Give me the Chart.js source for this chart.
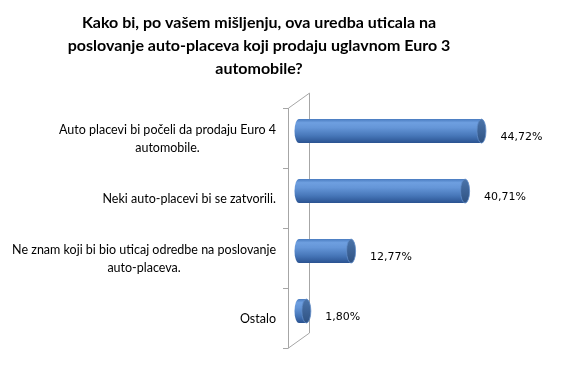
<!DOCTYPE html>
<html>
<head>
<meta charset="utf-8">
<script src="https://cdn.jsdelivr.net/npm/chart.js@4"></script>
<style>
  html, body { margin: 0; padding: 0; background: #fff; }
</style>
</head>
<body>
<canvas id="myChart" width="573" height="367"></canvas>
<script>
var titleLines = [
	"Kako bi, po vašem mišljenju, ova uredba uticala na",
	"poslovanje auto-placeva koji prodaju uglavnom Euro 3",
	"automobile?"
];
var categories = [
	["Auto placevi bi počeli da prodaju Euro 4", "automobile."],
	["Neki auto-placevi bi se zatvorili."],
	["Ne znam koji bi bio uticaj odredbe na poslovanje", "auto-placeva."],
	["Ostalo"]
];
var percents = [44.72, 40.71, 12.77, 1.80];
var valueLabels = ["44,72%", "40,71%", "12,77%", "1,80%"];

var depthX = 10, depthY = 7;   // half of the 3d wall offset

function barGradient(ctx, top, bottom) {
	var g = ctx.createLinearGradient(0, top, 0, bottom);
	g.addColorStop(0, "#4a7cc0");
	g.addColorStop(0.15, "#6e9fe0");
	g.addColorStop(0.35, "#6596d8");
	g.addColorStop(0.7, "#4676b8");
	g.addColorStop(1, "#2a5290");
	return g;
}

var cylinder3d = {
	id: "cylinder3d",
	beforeDatasetsDraw: function(chart) {
		var ctx = chart.ctx, a = chart.chartArea, ys = chart.scales.y;
		var fx = a.left - 11, bx = a.left + depthX;
		ctx.save();
		ctx.strokeStyle = "#a6a6a6";
		ctx.lineWidth = 1;
		ctx.beginPath();
		// front axis
		ctx.moveTo(fx + 0.5, a.top + depthY);
		ctx.lineTo(fx + 0.5, a.bottom + depthY);
		// back wall
		ctx.moveTo(bx + 0.5, a.top - 8);
		ctx.lineTo(bx + 0.5, a.bottom - 8);
		// diagonals
		ctx.moveTo(fx + 0.5, a.top + depthY);
		ctx.lineTo(bx + 0.5, a.top - 8);
		ctx.moveTo(fx + 0.5, a.bottom + depthY);
		ctx.lineTo(bx + 0.5, a.bottom - 8);
		// ticks
		var step = (a.bottom - a.top) / categories.length;
		for (var i = 0; i <= categories.length; i++) {
			var ty = Math.round(a.top + depthY + i * step) + 0.5;
			ctx.moveTo(fx - 5, ty);
			ctx.lineTo(fx + 0.5, ty);
		}
		ctx.stroke();

		// category labels, block right-aligned, lines centred
		ctx.font = "12.5px Lato";
		ctx.fillStyle = "#000";
		ctx.textAlign = "center";
		ctx.textBaseline = "middle";
		var lh = 18;
		for (var c = 0; c < categories.length; c++) {
			var lines = categories[c];
			var w = 0;
			for (var j = 0; j < lines.length; j++) w = Math.max(w, ctx.measureText(lines[j]).width);
			var cx = fx - 12 - w / 2;
			var cy = ys.getPixelForValue(c) + depthY + 1;
			for (var j = 0; j < lines.length; j++) {
				ctx.fillText(lines[j], cx, cy + (j - (lines.length - 1) / 2) * lh);
			}
		}
		ctx.restore();
	},
	afterDatasetsDraw: function(chart) {
		var ctx = chart.ctx;
		var meta = chart.getDatasetMeta(0);
		ctx.save();
		meta.data.forEach(function(bar, i) {
			var h = bar.height / 2, rx = 4.5;
			// rounded back end
			ctx.beginPath();
			ctx.ellipse(bar.base, bar.y, rx, h, 0, Math.PI / 2, Math.PI * 3 / 2);
			ctx.closePath();
			ctx.fillStyle = barGradient(ctx, bar.y - h, bar.y + h);
			ctx.fill();
			// end cap
			ctx.beginPath();
			ctx.ellipse(bar.x, bar.y, rx, h, 0, 0, Math.PI * 2);
			var g = ctx.createLinearGradient(0, bar.y - h, 0, bar.y + h);
			g.addColorStop(0, "#4b74aa");
			g.addColorStop(1, "#2f5283");
			ctx.fillStyle = g;
			ctx.fill();
			ctx.strokeStyle = "#5f8cc8";
			ctx.lineWidth = 0.8;
			ctx.stroke();
			// value label
			ctx.font = "11px 'DejaVu Sans'";
			ctx.fillStyle = "#000";
			ctx.textAlign = "left";
			ctx.textBaseline = "middle";
			ctx.fillText(valueLabels[i], bar.x + 19, bar.y + 6);
		});
		ctx.restore();
	}
};

var ctx = document.getElementById("myChart");

var myChart = new Chart(ctx, {
	type: "bar",
	data: {
		labels: categories,
		datasets: [{
			data: percents,
			backgroundColor: function(context) {
				var chart = context.chart;
				if (!chart.chartArea) return "#4f81bd";
				var y = chart.scales.y.getPixelForValue(context.dataIndex);
				return barGradient(chart.ctx, y - 12, y + 12);
			},
			borderWidth: 0,
			barPercentage: 0.4,
			categoryPercentage: 1.0
		}]
	},
	options: {
		indexAxis: "y",
		responsive: false,
		animation: false,
		devicePixelRatio: 1,
		layout: { padding: { left: 15, right: 70, top: 0, bottom: 26 } },
		plugins: {
			legend: { display: false },
			tooltip: { enabled: false },
			title: {
				display: true,
				text: titleLines,
				color: "#000",
				font: { family: "Lato", size: 16, weight: "bold", lineHeight: 1.44 },
				padding: { top: 11, bottom: 21 }
			}
		},
		scales: {
			x: { display: false, min: 0, max: 50 },
			y: {
				display: true,
				grid: { display: false },
				border: { display: false },
				ticks: { display: false },
				afterFit: function(scale) { scale.width = 284; }
			}
		}
	},
	plugins: [cylinder3d]
});
</script>
</body>
</html>
